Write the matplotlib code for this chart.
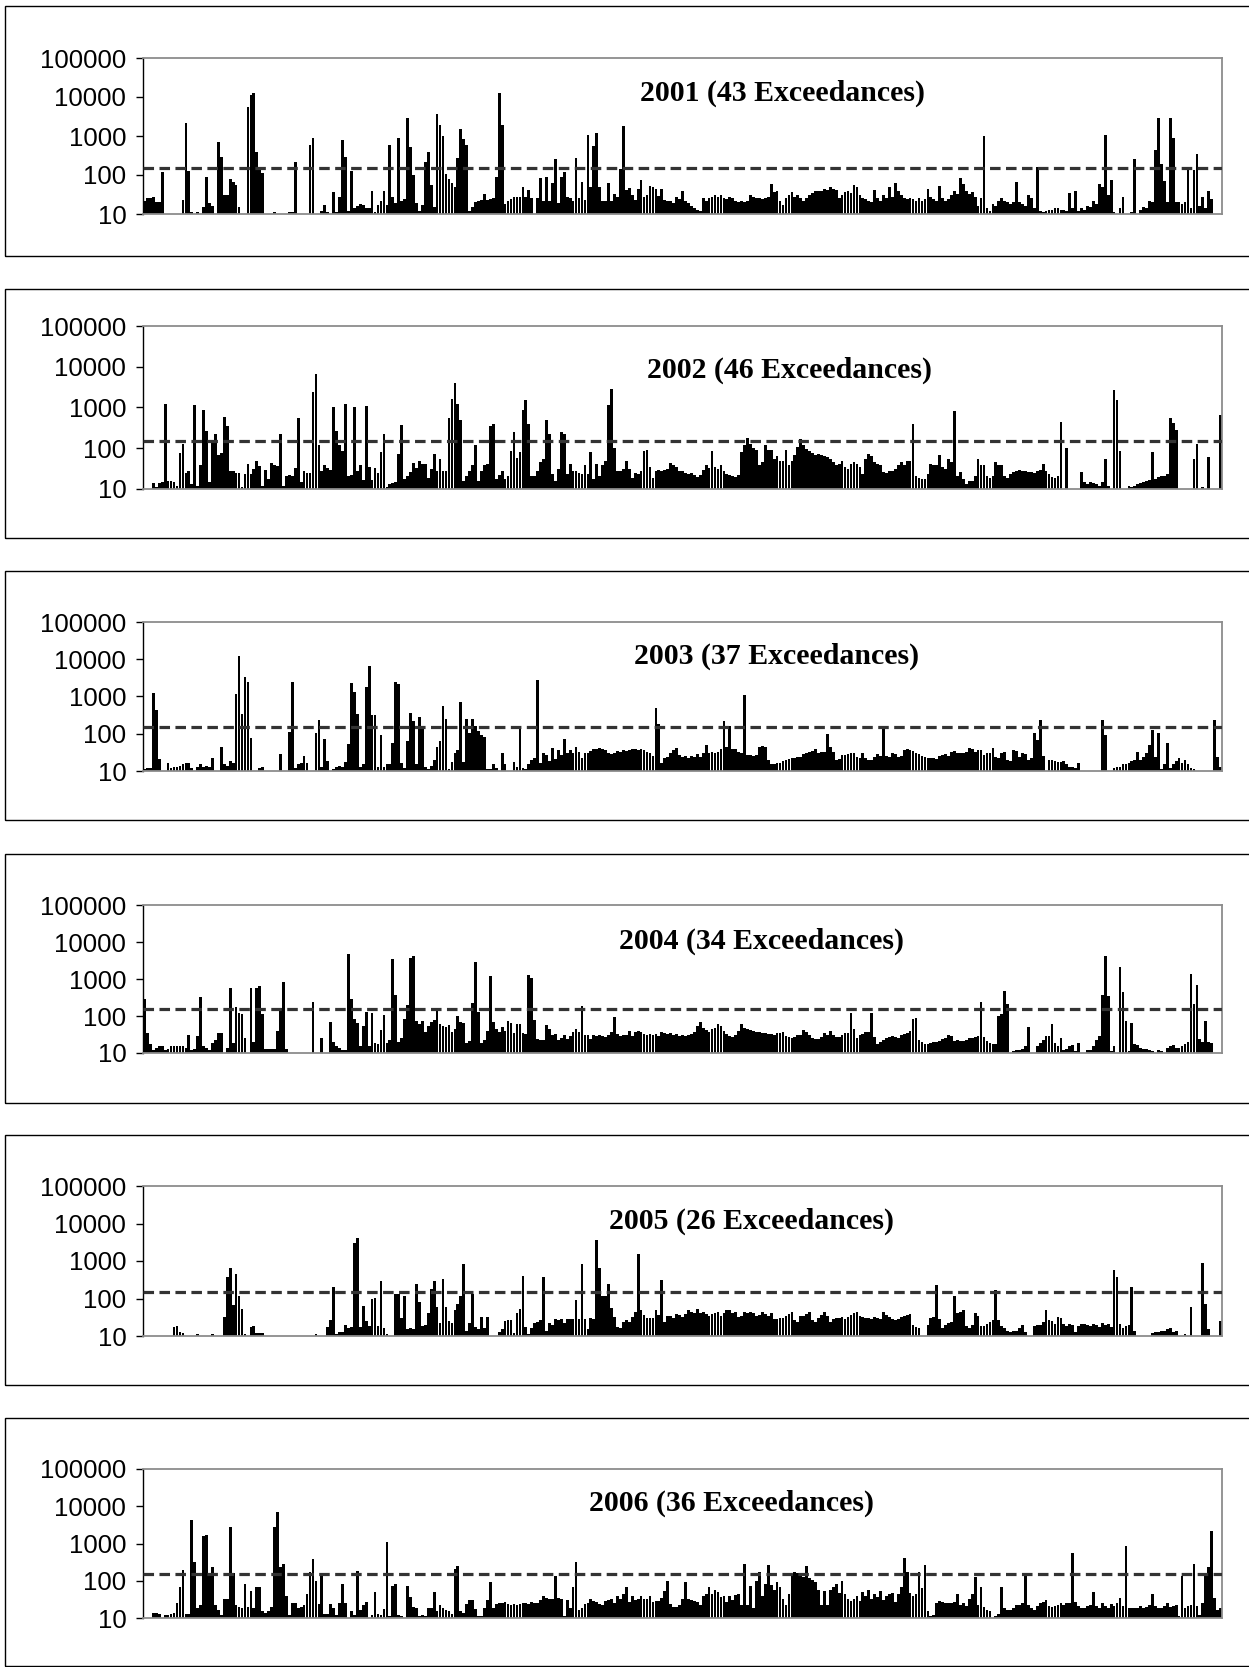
import numpy as np
import matplotlib.pyplot as plt
from matplotlib.patches import Rectangle
from matplotlib.ticker import NullLocator, FixedLocator, FixedFormatter

# daily values (0 = no bar), one list per year, 365 days each
vals_2001 = [
    22, 25, 25, 28, 20, 20, 120, 0, 0, 0,
    0, 0, 0, 23, 2100, 130, 11, 0, 11, 0,
    15, 88, 19, 16, 0, 700, 290, 30, 30, 80,
    65, 57, 15, 0, 0, 5600, 11000, 13000, 400, 160,
    115, 0, 0, 0, 11, 0, 0, 0, 0, 11,
    11, 210, 0, 0, 0, 0, 600, 900, 0, 0,
    12, 17, 11, 0, 36, 11, 28, 800, 290, 12,
    125, 14, 16, 18, 17, 14, 14, 40, 11, 17,
    21, 40, 17, 580, 27, 19, 890, 21, 24, 2900,
    510, 100, 19, 12, 17, 210, 400, 56, 15, 3700,
    1950, 1000, 107, 78, 64, 50, 265, 1500, 840, 590,
    12, 15, 20, 21, 23, 32, 23, 24, 25, 88,
    12700, 1950, 18, 21, 24, 28, 28, 28, 50, 28,
    42, 25, 0, 25, 83, 21, 91, 21, 64, 260,
    19, 91, 120, 28, 25, 21, 270, 25, 68, 23,
    1080, 50, 540, 1200, 50, 22, 22, 62, 22, 33,
    28, 140, 1850, 42, 46, 31, 23, 43, 75, 28,
    30, 53, 50, 43, 29, 43, 23, 22, 21, 19,
    28, 24,
    38, 21, 19, 16, 14, 13, 12, 26, 22, 25,
    28, 30, 28, 30, 26, 24, 28, 26, 22, 20,
    22, 20, 21, 30, 28, 26, 25, 24, 26, 28,
    58, 36, 38, 22, 17, 25, 30, 36, 28, 30,
    25, 22, 26, 30, 34, 38, 40, 38, 44, 42,
    48, 45, 42, 26, 30, 36, 40, 35, 56, 48,
    30, 25, 24, 22, 20, 42, 25, 22, 30, 25,
    50, 28, 62, 40, 30, 26, 24, 25, 24, 22,
    25, 22, 24, 45, 28, 24, 22, 52, 26, 22,
    24, 30, 40, 32, 85, 60, 38, 32, 36, 28,
    16, 26, 1000, 14, 12, 18, 16, 22, 25, 22,
    20, 18, 20, 68, 20, 18, 16, 30, 25, 14,
    165, 12, 11, 12, 13, 13, 14, 14, 13, 13,
    12, 35, 14, 38, 12, 14, 13, 16, 15, 22,
    18, 60, 50, 1080, 30, 75, 11, 0, 14, 28,
    0, 0, 11, 250, 0, 13, 15, 14, 22, 20,
    450, 2900, 195, 70, 20, 2900, 900, 20, 20, 18,
    20, 135, 14, 135, 345, 16, 28, 14, 38, 24,
    0, 0, 0]

vals_2002 = [
    0, 0, 0, 14, 11, 14, 15, 1200, 16, 16,
    15, 12, 77, 130, 25, 28, 13, 1120, 12, 39,
    870, 260, 15, 140, 220, 70, 75, 580, 360, 28,
    28, 25, 25, 11, 23, 42, 23, 31, 50, 36,
    12, 30, 18, 44, 38, 36, 230, 12, 21, 22,
    21, 33, 540, 15, 27, 25, 25, 2400, 6700, 123,
    28, 38, 33, 30, 1000, 270, 123, 85, 1200, 21,
    22, 1000, 27, 38, 17, 1070, 34, 17, 33, 25,
    80, 230, 11, 13, 14, 15, 74, 370, 18, 21,
    26, 44, 33, 50, 40, 42, 19, 31, 71, 27,
    56, 27, 27, 560, 1600, 4000, 1200, 500, 16, 21,
    27, 38, 123, 16, 27, 38, 42, 360, 390, 18,
    22, 28, 18, 21, 85, 250, 58, 80, 880, 1500,
    400, 21, 21, 28, 46, 55, 500, 230, 23, 16,
    31, 250, 230, 23, 42, 28, 28, 25, 23, 38,
    23, 80, 18, 42, 21, 38, 50, 1150, 2900, 100,
    28, 28, 31, 50, 31, 19, 25, 24, 27, 85,
    90, 34, 19, 28, 30, 28, 30, 31, 44, 38,
    34, 28,
    28, 25, 23, 25, 22, 20, 22, 30, 38, 32,
    85, 34, 31, 38, 28, 23, 22, 21, 20, 22,
    80, 118, 180, 130, 100, 90, 38, 45, 123, 90,
    90, 55, 64, 50, 50, 90, 38, 50, 67, 110,
    170, 123, 95, 85, 75, 67, 74, 67, 64, 60,
    55, 46, 38, 42, 48, 34, 31, 40, 46, 40,
    34, 23, 55, 74, 64, 46, 40, 38, 26, 25,
    28, 28, 31, 38, 46, 38, 50, 50, 400, 21,
    19, 18, 18, 23, 42, 38, 38, 70, 34, 31,
    55, 45, 800, 21, 26, 18, 13, 16, 16, 21,
    55, 38, 38, 21, 19, 21, 46, 38, 38, 21,
    19, 23, 26, 28, 30, 28, 27, 26, 26, 25,
    28, 30, 40, 28, 24, 20, 19, 21, 450, 0,
    100, 0, 0, 0, 0, 26, 15, 13, 15, 14,
    13, 12, 15, 55, 12, 0, 2700, 1500, 85, 0,
    0, 12, 11, 12, 13, 14, 15, 16, 17, 80,
    18, 20, 21, 21, 23, 560, 410, 280, 0, 0,
    0, 0, 0, 55, 130, 0, 11, 0, 60, 0,
    0, 0, 650]

vals_2003 = [
    11, 12, 12, 1230, 430, 21, 0, 0, 16, 12,
    13, 13, 14, 15, 16, 16, 12, 0, 13, 15,
    13, 14, 13, 22, 0, 0, 45, 15, 14, 18,
    16, 1200, 12000, 330, 3300, 2500, 77, 0, 0, 12,
    13, 0, 0, 0, 0, 0, 29, 0, 0, 110,
    2400, 12, 15, 16, 25, 16, 0, 0, 105, 230,
    13, 72, 19, 0, 11, 13, 14, 13, 17, 54,
    2300, 1300, 330, 13, 15, 1750, 6700, 310, 310, 13,
    95, 13, 15, 15, 56, 2400, 2100, 16, 12, 62,
    370, 220, 15, 290, 160, 13, 11, 14, 20, 45,
    62, 560, 250, 11, 17, 30, 36, 720, 17, 250,
    105, 250, 165, 118, 91, 82, 11, 11, 15, 12,
    0, 30, 15, 0, 0, 17, 13, 135, 12, 11,
    15, 20, 22, 2700, 16, 31, 27, 19, 41, 21,
    36, 27, 72, 30, 37, 30, 44, 33, 22, 30,
    31, 35, 38, 40, 41, 38, 36, 30, 28, 30,
    35, 33, 36, 34, 36, 38, 39, 37, 40, 36,
    33, 30, 25, 500, 180, 16, 22, 24, 31, 37,
    41, 27,
    24, 25, 22, 26, 24, 28, 24, 30, 50, 30,
    33, 30, 33, 40, 220, 45, 160, 40, 38, 33,
    30, 1100, 27, 27, 25, 27, 45, 48, 45, 20,
    15, 15, 16, 16, 18, 20, 21, 22, 22, 24,
    24, 28, 30, 33, 35, 39, 30, 33, 33, 100,
    45, 33, 20, 21, 27, 27, 28, 31, 30, 24,
    22, 30, 22, 20, 20, 24, 28, 26, 135, 26,
    24, 30, 28, 24, 26, 37, 38, 36, 35, 30,
    28, 26, 24, 23, 22, 22, 21, 25, 27, 28,
    26, 33, 35, 30, 30, 31, 32, 41, 40, 33,
    37, 36, 27, 30, 30, 41, 24, 22, 30, 32,
    20, 18, 37, 35, 24, 30, 28, 20, 22, 105,
    70, 240, 25, 0, 20, 20, 18, 17, 17, 18,
    15, 13, 13, 12, 16, 0, 0, 0, 0, 0,
    0, 0, 240, 95, 0, 0, 12, 13, 13, 15,
    15, 16, 18, 20, 33, 20, 24, 30, 50, 125,
    24, 105, 11, 15, 56, 12, 15, 18, 22, 16,
    20, 15, 12, 11, 0, 0, 0, 0, 0, 0,
    240, 24, 13]

vals_2004 = [
    290, 35, 17, 12, 14, 15, 15, 12, 13, 15,
    15, 15, 15, 15, 14, 30, 12, 13, 29, 320,
    15, 14, 12, 19, 23, 34, 34, 0, 14, 575,
    19, 180, 120, 110, 25, 0, 575, 20, 560, 640,
    110, 13, 13, 13, 13, 39, 165, 820, 13, 0,
    0, 0, 0, 0, 0, 0, 0, 240, 0, 0,
    26, 0, 0, 68, 20, 15, 14, 12, 12, 4600,
    280, 85, 63, 15, 53, 130, 15, 120, 19, 17,
    43, 105, 19, 22, 3500, 360, 20, 26, 81, 200,
    3600, 4300, 73, 60, 75, 37, 55, 68, 80, 135,
    62, 55, 50, 57, 36, 45, 100, 68, 66, 19,
    21, 230, 2800, 130, 19, 22, 40, 1200, 68, 45,
    38, 50, 40, 73, 65, 35, 62, 60, 34, 33,
    1300, 1050, 77, 24, 22, 22, 57, 45, 30, 32,
    22, 26, 30, 24, 28, 36, 45, 38, 185, 30,
    31, 24, 31, 28, 30, 29, 27, 30, 36, 95,
    32, 28, 30, 31, 40, 28, 36, 40, 38, 32,
    30, 33, 30, 32, 28, 36, 35, 32, 35, 31,
    32, 28,
    30, 29, 31, 32, 37, 53, 68, 48, 43, 36,
    45, 48, 59, 53, 40, 33, 28, 27, 30, 40,
    62, 48, 45, 43, 40, 38, 36, 35, 35, 33,
    32, 31, 34, 35, 36, 29, 27, 26, 27, 30,
    31, 43, 38, 30, 26, 24, 24, 27, 35, 30,
    40, 30, 27, 27, 31, 34, 35, 120, 45, 25,
    30, 32, 36, 38, 120, 27, 18, 20, 22, 25,
    27, 28, 27, 25, 30, 32, 35, 40, 85, 90,
    22, 20, 18, 18, 19, 20, 20, 21, 24, 25,
    30, 28, 21, 22, 21, 21, 22, 25, 26, 27,
    28, 240, 27, 21, 19, 18, 17, 99, 110, 470,
    205, 0, 11, 12, 12, 13, 15, 51, 0, 0,
    15, 19, 22, 28, 28, 59, 19, 15, 25, 12,
    13, 15, 16, 11, 19, 0, 0, 12, 12, 15,
    22, 28, 360, 4100, 350, 11, 15, 0, 2100, 440,
    73, 11, 66, 17, 16, 14, 13, 13, 12, 11,
    0, 12, 11, 0, 14, 15, 16, 14, 14, 15,
    17, 20, 1400, 205, 710, 24, 20, 73, 20, 19,
    0, 0, 0]

vals_2005 = [
    0, 0, 0, 0, 0, 0, 0, 0, 0, 0,
    17, 18, 13, 12, 0, 0, 0, 0, 11, 0,
    0, 0, 0, 11, 0, 0, 0, 32, 380, 670,
    66, 460, 117, 54, 11, 0, 17, 18, 12, 12,
    12, 0, 0, 0, 0, 0, 0, 0, 0, 0,
    0, 0, 0, 0, 0, 0, 0, 0, 11, 0,
    0, 0, 17, 27, 200, 11, 13, 13, 20, 16,
    17, 3000, 4200, 17, 63, 25, 19, 95, 105, 19,
    300, 16, 11, 0, 0, 135, 135, 31, 120, 15,
    16, 15, 240, 80, 19, 20, 40, 183, 295, 60,
    22, 340, 60, 25, 22, 50, 73, 115, 820, 14,
    22, 135, 17, 15, 32, 16, 32, 0, 0, 0,
    13, 15, 25, 26, 27, 12, 40, 52, 390, 17,
    11, 16, 22, 24, 26, 375, 14, 22, 20, 28,
    27, 28, 22, 28, 29, 28, 90, 29, 820, 29,
    15, 31, 29, 3700, 660, 120, 120, 240, 57, 32,
    17, 16, 24, 26, 24, 32, 45, 1500, 48, 37,
    31, 31, 30, 48, 37, 320, 23, 35, 35, 31,
    38, 36,
    32, 38, 48, 44, 40, 53, 42, 45, 38, 35,
    38, 40, 45, 35, 42, 48, 50, 40, 43, 33,
    35, 44, 40, 45, 40, 34, 37, 44, 38, 35,
    41, 29, 28, 31, 30, 34, 38, 43, 26, 24,
    35, 34, 38, 43, 27, 24, 30, 36, 44, 35,
    23, 28, 30, 31, 32, 28, 33, 37, 41, 43,
    35, 33, 31, 30, 28, 33, 31, 28, 43, 36,
    33, 28, 27, 29, 33, 35, 36, 38, 20, 17,
    16, 0, 0, 20, 30, 32, 225, 28, 16, 20,
    22, 24, 115, 40, 45, 48, 18, 16, 20, 40,
    35, 19, 19, 21, 24, 26, 165, 26, 19, 16,
    14, 13, 14, 14, 16, 20, 13, 0, 0, 19,
    20, 20, 24, 48, 26, 25, 21, 32, 30, 21,
    19, 21, 20, 13, 19, 21, 21, 20, 19, 21,
    20, 17, 22, 20, 21, 17, 590, 375, 21, 16,
    18, 20, 200, 14, 0, 0, 0, 0, 0, 12,
    13, 13, 14, 14, 15, 16, 13, 14, 0, 0,
    11, 0, 60, 0, 0, 0, 890, 73, 15, 0,
    0, 0, 25]

vals_2006 = [
    0, 0, 0, 14, 14, 13, 0, 12, 12, 13,
    14, 26, 70, 200, 13, 13, 4300, 310, 18, 22,
    1620, 1700, 140, 230, 22, 16, 12, 32, 32, 2700,
    165, 22, 20, 19, 82, 20, 54, 19, 67, 67,
    15, 14, 15, 20, 2700, 7000, 240, 280, 40, 12,
    25, 25, 18, 20, 23, 44, 175, 380, 100, 24,
    135, 13, 13, 24, 18, 12, 25, 82, 26, 0,
    15, 12, 187, 16, 23, 27, 0, 12, 49, 13,
    12, 17, 1080, 11, 74, 82, 12, 11, 0, 74,
    36, 20, 19, 11, 12, 11, 19, 18, 49, 15,
    23, 19, 16, 15, 13, 205, 255, 15, 14, 24,
    30, 30, 17, 11, 11, 18, 30, 90, 18, 24,
    25, 26, 27, 24, 23, 24, 23, 24, 25, 26,
    24, 27, 26, 25, 30, 38, 34, 33, 33, 135,
    34, 33, 11, 31, 19, 70, 310, 16, 19, 24,
    25, 32, 28, 27, 24, 23, 29, 30, 33, 26,
    38, 32, 44, 67, 27, 40, 30, 33, 38, 33,
    33, 38, 27, 28, 29, 35, 54, 100, 24, 20,
    20, 22,
    32, 90, 33, 30, 29, 27, 22, 40, 44, 67,
    44, 55, 50, 37, 38, 27, 38, 30, 42, 44,
    22, 280, 22, 74, 19, 100, 175, 38, 80, 265,
    77, 58, 94, 70, 32, 22, 44, 150, 175, 165,
    145, 125, 250, 115, 105, 92, 55, 22, 52, 22,
    55, 68, 83, 48, 100, 45, 32, 29, 33, 40,
    29, 50, 40, 58, 33, 43, 37, 52, 30, 40,
    44, 48, 27, 44, 70, 400, 175, 48, 40, 44,
    175, 65, 265, 15, 11, 12, 25, 28, 27, 25,
    25, 26, 27, 44, 22, 25, 21, 33, 44, 125,
    22, 67, 20, 16, 15, 0, 11, 13, 67, 19,
    16, 16, 19, 22, 23, 26, 150, 22, 18, 16,
    21, 25, 27, 30, 21, 20, 21, 23, 25, 22,
    26, 26, 560, 27, 21, 18, 19, 21, 23, 49,
    21, 19, 25, 21, 19, 24, 21, 25, 35, 21,
    870, 19, 18, 18, 19, 21, 19, 20, 23, 44,
    21, 19, 18, 21, 26, 20, 21, 23, 11, 135,
    18, 21, 23, 290, 21, 12, 26, 135, 230, 2200,
    35, 16, 18]

years = [2001, 2002, 2003, 2004, 2005, 2006]
exceedances = [43, 46, 37, 34, 26, 36]
all_vals = [vals_2001, vals_2002, vals_2003, vals_2004, vals_2005, vals_2006]
threshold = 150
ytick_vals = [10, 100, 1000, 10000, 100000]
ytick_labels = ['10', '100', '1000', '10000', '100000']

W, H = 1249, 1667
fig = plt.figure(figsize=(W / 100, H / 100), dpi=100)

# pixel layout of each panel: outer box (top, bottom), plot area (top, bottom)
box_px = [(6, 256), (289, 538), (571, 820), (854, 1103), (1135, 1385), (1418, 1666)]
axes_px = [(58, 214), (326, 489), (622, 771), (905, 1053), (1186, 1336), (1469, 1618)]
title_pos = [(0.593, 0.774), (0.599, 0.73), (0.587, 0.772),
             (0.573, 0.757), (0.564, 0.767), (0.545, 0.772)]
ax_left, ax_right = 143, 1222

for i in range(6):
    bt, bb = box_px[i]
    fig.add_artist(Rectangle((5 / W, 1 - bb / H), (1300 - 5) / W, (bb - bt) / H,
                             transform=fig.transFigure, fill=False,
                             edgecolor='black', lw=1.0))
    at, ab = axes_px[i]
    ax = fig.add_axes([ax_left / W, 1 - ab / H, (ax_right - ax_left) / W, (ab - at) / H])

    v = np.array(all_vals[i], dtype=float)
    x = np.arange(len(v))
    h = np.where(v > 10, v - 10, np.nan)
    ax.bar(x, h, bottom=10, width=0.92, color='black', linewidth=0, zorder=2)
    ax.axhline(threshold, color='#333333', lw=2.3, ls=(0, (3.3, 1.7)), zorder=3)

    ax.set_yscale('log')
    ax.set_ylim(10, 100000)
    ax.set_xlim(-0.5, 364.5)
    ax.yaxis.set_major_locator(FixedLocator(ytick_vals))
    ax.yaxis.set_major_formatter(FixedFormatter(ytick_labels))
    ax.yaxis.set_minor_locator(NullLocator())
    ax.set_xticks([])
    ax.tick_params(axis='y', direction='out', length=5, width=1, pad=7,
                   labelsize=18.5, colors='black')
    for lab in ax.get_yticklabels():
        lab.set_family('Liberation Sans')
    for side in ['top', 'right', 'bottom']:
        ax.spines[side].set_color('#8c8c8c')
        ax.spines[side].set_linewidth(1.3)
    ax.spines['left'].set_color('black')
    ax.spines['left'].set_linewidth(1.0)

    tx, ty = title_pos[i]
    ax.text(tx, ty, f"{years[i]} ({exceedances[i]} Exceedances)", transform=ax.transAxes,
            ha='center', va='center', fontsize=21.5, fontweight='bold',
            family='Liberation Serif', zorder=4)

fig.savefig('out.png', dpi=100)
